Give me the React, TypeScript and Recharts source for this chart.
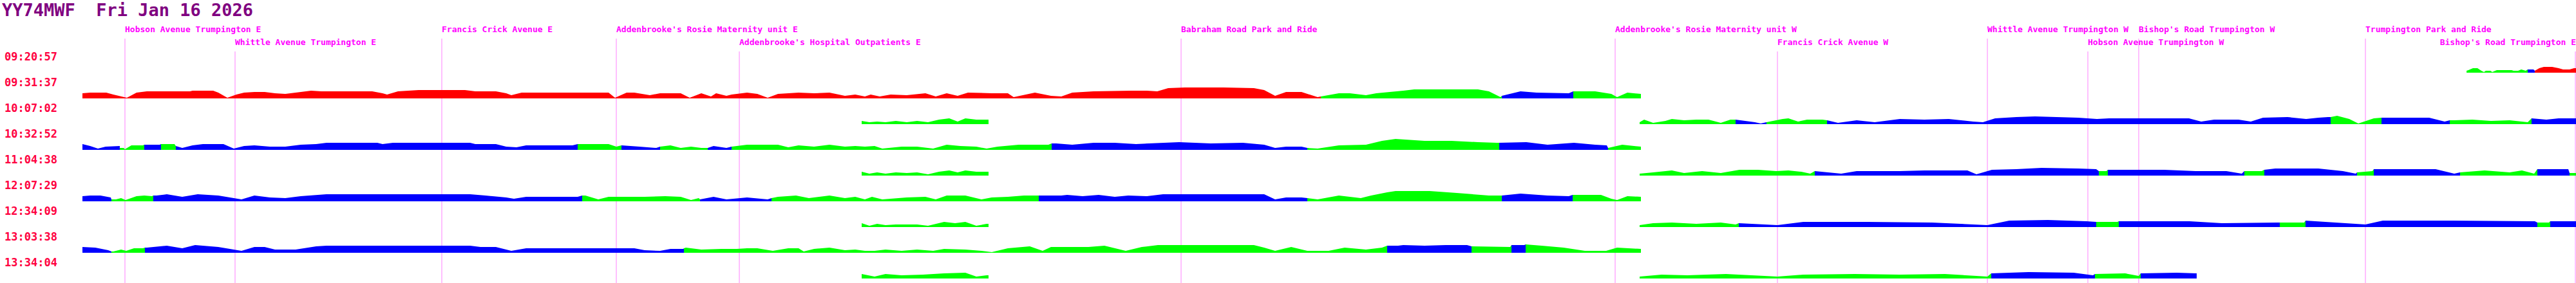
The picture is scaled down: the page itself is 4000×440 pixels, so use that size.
import React from "react";
import { ComposedChart, Area, XAxis, YAxis, ReferenceLine } from "recharts";

const W = 4000;
const H = 440;
const LEFT = 128;
const HEAD_H = 73;
const ROW_H = 40;

const TITLE = "YY74MWF  Fri Jan 16 2026";
const TITLE_COLOR = "#800080";
const TIME_COLOR = "#ff0040";
const STOP_COLOR = "#ff00ff";
const LINE_COLOR = "#ff80ff";
const FILL: Record<string, string> = { r: "#ff0000", g: "#00ff00", b: "#0000ff" };
const MONO = "'DejaVu Sans Mono', 'Liberation Mono', monospace";

// stops along the route (route position), label tier 1 = upper, 2 = lower
const stopNames = [
  "Hobson Avenue Trumpington E",
  "Whittle Avenue Trumpington E",
  "Francis Crick Avenue E",
  "Addenbrooke's Rosie Maternity unit E",
  "Addenbrooke's Hospital Outpatients E",
  "Babraham Road Park and Ride",
  "Addenbrooke's Rosie Maternity unit W",
  "Francis Crick Avenue W",
  "Whittle Avenue Trumpington W",
  "Hobson Avenue Trumpington W",
  "Bishop's Road Trumpington W",
  "Trumpington Park and Ride",
  "Bishop's Road Trumpington E",
];
const stopPos = [194, 365, 686, 957, 1148, 1834, 2508, 2760, 3086, 3242, 3321, 3673, 3999];
const stopTier = [1, 2, 1, 1, 2, 1, 1, 2, 1, 2, 1, 1, 2];

const tripTimes = [
  "09:20:57", "09:31:37", "10:07:02", "10:32:52", "11:04:38",
  "12:07:29", "12:34:09", "13:03:38", "13:34:04",
];

// each trip: segments -> runs of [state, [[position, speed], ...]]
type Run = [string, number[][]];

const trip0: Run[][] = [[
  ["g", [[3830, 3], [3833, 4], [3840, 7], [3847, 7], [3853, 3], [3857, 1], [3860, 3], [3867, 3], [3870, 1], [3877, 4], [3900, 4], [3903, 3], [3910, 3], [3915, 5], [3922, 3]]],
  ["b", [[3925, 5], [3934, 5]]],
  ["r", [[3936, 3], [3943, 7], [3950, 9], [3963, 9], [3973, 7], [3980, 5], [3990, 5], [3997, 7], [4000, 7]]],
]];

const trip1: Run[][] = [[
  ["r", [[128, 8], [140, 9], [165, 9], [176, 6], [197, 1], [212, 9], [228, 11], [295, 11], [299, 12], [331, 12], [339, 9], [353, 1], [367, 6], [379, 9], [395, 10], [411, 10], [427, 8], [443, 7], [459, 9], [483, 12], [499, 11], [578, 11], [594, 8], [601, 6], [618, 11], [650, 13], [722, 13], [738, 11], [770, 11], [786, 8], [794, 5], [810, 9], [945, 9], [955, 1], [973, 9], [985, 9], [1009, 5], [1025, 8], [1057, 8], [1071, 1], [1089, 8], [1104, 3], [1112, 8], [1128, 4], [1136, 6], [1160, 9], [1176, 7], [1192, 1], [1208, 7], [1240, 9], [1264, 8], [1288, 9], [1312, 4], [1328, 6], [1343, 3], [1352, 6], [1366, 3], [1383, 6], [1408, 5], [1437, 8], [1453, 3], [1470, 8], [1487, 4], [1503, 9], [1540, 8], [1565, 8], [1574, 2], [1607, 9], [1632, 4], [1648, 3], [1665, 9], [1698, 11], [1756, 12], [1781, 12], [1797, 11], [1814, 16], [1840, 17], [1900, 17], [1947, 16], [1963, 13], [1980, 4], [1997, 10], [2021, 10], [2046, 2]]],
  ["g", [[2051, 3], [2079, 8], [2096, 8], [2121, 5], [2137, 8], [2179, 12], [2196, 14], [2295, 14], [2312, 11], [2330, 2]]],
  ["b", [[2332, 4], [2361, 11], [2386, 9], [2436, 8]]],
  ["g", [[2443, 11], [2477, 11], [2502, 7], [2511, 2], [2527, 9], [2548, 7]]],
]];

const trip2: Run[][] = [
  [["g", [[1338, 5], [1350, 3], [1362, 4], [1375, 3], [1391, 5], [1408, 3], [1424, 5], [1441, 3], [1458, 7], [1474, 9], [1487, 4], [1499, 9], [1516, 7], [1535, 7]]]],
  [
    ["g", [[2546, 3], [2553, 7], [2567, 2], [2586, 5], [2596, 8], [2615, 6], [2634, 7], [2653, 7], [2672, 2], [2687, 7]]],
    ["b", [[2695, 7], [2725, 3], [2734, 1]]],
    ["g", [[2743, 3], [2768, 8], [2777, 9], [2792, 4], [2806, 7], [2830, 7]]],
    ["b", [[2837, 6], [2854, 2], [2883, 6], [2911, 3], [2950, 8], [2988, 7], [3026, 8], [3064, 4], [3079, 3], [3098, 9], [3131, 11], [3160, 12], [3227, 10], [3256, 8], [3275, 9], [3399, 9], [3418, 4], [3438, 7], [3476, 7], [3495, 4], [3514, 10], [3552, 11], [3581, 8], [3600, 10], [3615, 11]]],
    ["g", [[3619, 11], [3629, 13], [3648, 8], [3662, 1], [3686, 9]]],
    ["b", [[3698, 10], [3772, 10], [3796, 4]]],
    ["g", [[3804, 6], [3811, 6], [3839, 7], [3868, 5], [3897, 6], [3925, 3]]],
    ["b", [[3931, 9], [3954, 7], [3973, 9], [4000, 9]]],
  ],
];

const trip3: Run[][] = [[
  ["b", [[128, 9], [140, 6], [152, 2], [164, 5], [186, 6]]],
  ["g", [[186, 3], [192, 3], [194, 1], [204, 7], [222, 7]]],
  ["b", [[224, 8], [248, 8]]],
  ["g", [[250, 9], [271, 9]]],
  ["b", [[273, 6], [283, 3], [299, 7], [315, 9], [347, 9], [363, 2], [379, 6], [395, 7], [419, 5], [443, 5], [467, 8], [491, 9], [507, 11], [586, 11], [594, 9], [610, 11], [730, 11], [738, 9], [770, 9], [786, 5], [802, 4], [817, 7], [889, 7]]],
  ["g", [[897, 9], [945, 9], [957, 5]]],
  ["b", [[965, 7], [993, 5], [1019, 3]]],
  ["g", [[1025, 5], [1041, 7], [1057, 3], [1073, 5], [1089, 3]]],
  ["b", [[1099, 3], [1108, 6], [1128, 3]]],
  ["g", [[1136, 5], [1160, 8], [1208, 8], [1224, 4], [1240, 7], [1264, 5], [1288, 8], [1312, 5], [1328, 6], [1343, 5], [1358, 6], [1370, 2], [1400, 5], [1424, 5], [1449, 2], [1470, 8], [1491, 6], [1516, 5], [1532, 2], [1549, 5], [1582, 8], [1628, 8]]],
  ["b", [[1633, 10], [1640, 10], [1665, 8], [1698, 11], [1731, 11], [1764, 9], [1831, 12], [1880, 10], [1930, 11], [1963, 8], [1980, 3], [1997, 5], [2021, 5]]],
  ["g", [[2030, 3], [2046, 2], [2079, 7], [2121, 8], [2146, 14], [2167, 17], [2212, 14], [2254, 14], [2295, 12], [2324, 11]]],
  ["b", [[2328, 11], [2370, 12], [2403, 8], [2444, 11], [2477, 8], [2495, 7]]],
  ["g", [[2497, 3], [2519, 8], [2548, 5]]],
]];

const trip4: Run[][] = [
  [["g", [[1338, 6], [1350, 3], [1362, 5], [1375, 3], [1391, 5], [1408, 4], [1424, 5], [1441, 2], [1458, 6], [1474, 8], [1487, 5], [1499, 8], [1516, 6], [1535, 6]]]],
  [
    ["g", [[2546, 3], [2567, 5], [2596, 8], [2615, 4], [2643, 7], [2672, 4], [2701, 9], [2730, 9], [2758, 7], [2777, 8], [2797, 6], [2811, 3]]],
    ["b", [[2818, 7], [2859, 3], [2883, 7], [2950, 7], [2988, 8], [3055, 8], [3069, 2], [3093, 9], [3131, 10], [3170, 12], [3227, 11], [3255, 10]]],
    ["g", [[3259, 7], [3271, 7]]],
    ["b", [[3273, 9], [3361, 9], [3409, 7], [3457, 7], [3481, 3]]],
    ["g", [[3485, 7], [3512, 7]]],
    ["b", [[3516, 9], [3533, 11], [3600, 11], [3638, 7], [3658, 3]]],
    ["g", [[3660, 5], [3684, 7]]],
    ["b", [[3686, 10], [3782, 10], [3811, 3]]],
    ["g", [[3820, 5], [3858, 8], [3897, 5], [3916, 8], [3935, 3]]],
    ["b", [[3940, 10], [3983, 10], [3988, 10]]],
    ["g", [[3990, 4], [4000, 4]]],
  ],
];

const trip5: Run[][] = [[
  ["b", [[128, 8], [140, 9], [156, 9], [172, 6]]],
  ["g", [[173, 3], [180, 3], [188, 5], [195, 2], [212, 8], [224, 9], [236, 8]]],
  ["b", [[238, 9], [243, 9], [259, 11], [283, 7], [307, 11], [339, 9], [363, 5], [375, 3], [395, 9], [419, 6], [443, 5], [467, 8], [507, 11], [586, 11], [610, 11], [730, 11], [754, 9], [786, 6], [798, 4], [817, 7], [897, 7]]],
  ["g", [[904, 9], [909, 9], [929, 3], [945, 7], [1001, 7], [1033, 8], [1057, 7], [1073, 2], [1085, 5]]],
  ["b", [[1087, 3], [1108, 7], [1128, 3], [1160, 6], [1192, 3]]],
  ["g", [[1198, 5], [1208, 7], [1236, 9], [1256, 5], [1288, 9], [1312, 5], [1328, 7], [1343, 3], [1354, 7], [1370, 3], [1408, 6], [1437, 7], [1453, 3], [1470, 9], [1499, 9], [1524, 3], [1540, 6], [1565, 7], [1590, 9], [1611, 9]]],
  ["b", [[1613, 9], [1648, 9], [1657, 10], [1681, 8], [1706, 10], [1731, 7], [1752, 9], [1781, 8], [1806, 11], [1831, 11], [1880, 11], [1963, 11], [1980, 3], [1997, 6], [2021, 6]]],
  ["g", [[2030, 5], [2046, 3], [2079, 9], [2113, 5], [2129, 9], [2154, 14], [2167, 16], [2220, 16], [2262, 13], [2312, 9], [2330, 9]]],
  ["b", [[2332, 9], [2361, 12], [2403, 9], [2436, 8]]],
  ["g", [[2442, 10], [2486, 10], [2502, 4], [2511, 2], [2527, 8], [2548, 7]]],
]];

const trip6: Run[][] = [
  [["g", [[1338, 6], [1350, 2], [1362, 5], [1375, 3], [1391, 4], [1424, 4], [1441, 2], [1466, 8], [1483, 6], [1499, 8], [1516, 2], [1532, 5], [1535, 5]]]],
  [
    ["g", [[2546, 3], [2567, 6], [2596, 7], [2634, 5], [2672, 7], [2695, 4]]],
    ["b", [[2700, 6], [2760, 3], [2800, 8], [2900, 8], [3000, 7], [3086, 3], [3120, 10], [3180, 11], [3240, 9]]],
    ["g", [[3255, 8], [3288, 8]]],
    ["b", [[3290, 9], [3400, 9], [3450, 6], [3536, 7]]],
    ["g", [[3540, 7], [3578, 7]]],
    ["b", [[3580, 10], [3673, 4], [3700, 10], [3800, 10], [3936, 9]]],
    ["g", [[3940, 7], [3958, 7]]],
    ["b", [[3960, 9], [4000, 9]]],
  ],
];

const trip7: Run[][] = [[
  ["b", [[128, 9], [148, 8], [168, 4]]],
  ["g", [[173, 2], [176, 2], [188, 5], [196, 3], [208, 7], [222, 7]]],
  ["b", [[225, 8], [228, 8], [259, 11], [283, 7], [303, 12], [339, 9], [363, 5], [375, 3], [395, 9], [411, 9], [427, 5], [459, 5], [491, 10], [507, 11], [730, 11], [746, 9], [770, 9], [786, 5], [794, 3], [817, 7], [985, 7], [1001, 4], [1025, 3], [1041, 6], [1061, 6]]],
  ["g", [[1062, 7], [1065, 8], [1089, 5], [1120, 6], [1144, 6], [1160, 7], [1176, 7], [1200, 3], [1224, 7], [1240, 7], [1248, 2], [1264, 6], [1288, 8], [1312, 4], [1328, 5], [1343, 3], [1358, 3], [1375, 5], [1400, 3], [1424, 5], [1449, 3], [1466, 6], [1499, 5], [1524, 3], [1540, 1], [1565, 7], [1599, 10], [1619, 3], [1632, 9], [1690, 9], [1715, 11], [1748, 3], [1773, 9], [1798, 12], [1947, 12], [1963, 8], [1980, 3], [2005, 9], [2030, 3], [2063, 3], [2088, 8], [2121, 5], [2146, 8]]],
  ["b", [[2154, 11], [2171, 11], [2179, 12], [2212, 11], [2245, 12], [2278, 12]]],
  ["g", [[2285, 10], [2345, 9]]],
  ["b", [[2347, 12], [2367, 12]]],
  ["g", [[2369, 13], [2394, 11], [2428, 8], [2461, 3], [2494, 3], [2511, 8], [2548, 6]]],
]];

const trip8: Run[][] = [
  [["g", [[1338, 7], [1358, 3], [1375, 7], [1400, 5], [1433, 6], [1466, 8], [1499, 9], [1516, 3], [1532, 5], [1535, 5]]]],
  [
    ["g", [[2546, 3], [2580, 6], [2620, 5], [2680, 7], [2760, 3], [2800, 6], [2880, 7], [2950, 6], [3020, 7], [3086, 3]]],
    ["b", [[3092, 8], [3150, 10], [3220, 9], [3250, 5]]],
    ["g", [[3253, 7], [3300, 8], [3321, 4]]],
    ["b", [[3324, 8], [3380, 9], [3411, 8]]],
  ],
];

const trips = [trip0, trip1, trip2, trip3, trip4, trip5, trip6, trip7, trip8];

function buildRows(trip: Run[][]) {
  const out: Record<string, number>[] = [];
  trip.forEach((seg, si) => {
    if (si > 0) out.push({ x: seg[0][1][0][0] }); // break between segments
    seg.forEach(([c, pts], ri) => {
      pts.forEach(([x, v], j) => {
        const prev = out[out.length - 1];
        if (j === 0 && ri > 0 && prev && prev.x === x) prev[c] = v;
        else out.push({ x, [c]: v });
      });
      const next = seg[ri + 1];
      if (next) out.push({ x: next[1][0][0], [c]: next[1][0][1] });
    });
  });
  return out;
}

function StopLabel({ viewBox, name }: any) {
  const vx = viewBox?.x ?? viewBox?.x1 ?? 0;
  const vy = viewBox?.y ?? viewBox?.y1 ?? 0;
  const over = vx + name.length * 7.83 > W;
  return (
    <text
      x={over ? W : vx}
      y={vy - 10}
      textAnchor={over ? "end" : "start"}
      fill={STOP_COLOR}
      fontFamily={MONO}
      fontWeight="bold"
      fontSize={13}
    >
      {name}
    </text>
  );
}

function StopLayer({ tier, top }: { tier: number; top: number }) {
  const stops = stopNames
    .map((name, i) => ({ name, x: stopPos[i], y: 0.5, tier: stopTier[i] }))
    .filter((s) => s.tier === tier);
  return (
    <div style={{ position: "absolute", top: 0, left: 0 }}>
      <ComposedChart width={W} height={H} data={stops} margin={{ top, right: 0, bottom: 0, left: LEFT }}>
        <XAxis type="number" dataKey="x" domain={[LEFT, W]} hide allowDataOverflow />
        <YAxis type="number" hide domain={[0, 1]} allowDataOverflow />
        {stops.map((s) => (
          <ReferenceLine
            key={s.name}
            x={s.x}
            stroke={LINE_COLOR}
            strokeWidth={1}
            ifOverflow="visible"
            label={(p: any) => <StopLabel viewBox={p.viewBox} name={s.name} />}
          />
        ))}
      </ComposedChart>
    </div>
  );
}

function TripRow({ trip, time, idx }: { trip: Run[][]; time: string; idx: number }) {
  const data = buildRows(trip);
  return (
    <div style={{ position: "absolute", top: HEAD_H + idx * ROW_H, left: 0, width: W, height: ROW_H }}>
      <div
        style={{
          position: "absolute",
          left: 7,
          top: 7,
          fontFamily: MONO,
          fontWeight: "bold",
          fontSize: 17,
          lineHeight: "17px",
          color: TIME_COLOR,
          whiteSpace: "pre",
        }}
      >
        {time}
      </div>
      <div style={{ position: "absolute", top: 0, left: 0 }}>
        <ComposedChart width={W} height={ROW_H} data={data} margin={{ top: 0, right: 0, bottom: 0, left: LEFT }}>
          <XAxis type="number" dataKey="x" domain={[LEFT, W]} hide allowDataOverflow />
          <YAxis hide domain={[0, ROW_H]} allowDataOverflow />
          {["r", "g", "b"].map((k) => (
            <Area
              key={k}
              dataKey={k}
              type="linear"
              fill={FILL[k]}
              fillOpacity={1}
              stroke="none"
              baseValue={0}
              connectNulls={false}
              dot={false}
              activeDot={false}
              isAnimationActive={false}
            />
          ))}
        </ComposedChart>
      </div>
    </div>
  );
}

export default function App() {
  return (
    <div style={{ position: "absolute", top: 0, left: 0, width: W, height: H, background: "#fff", overflow: "hidden" }}>
      <StopLayer tier={1} top={60} />
      <StopLayer tier={2} top={80} />
      <div
        style={{
          position: "absolute",
          left: 3,
          top: 2,
          fontFamily: MONO,
          fontWeight: "bold",
          fontSize: 27,
          lineHeight: "27px",
          color: TITLE_COLOR,
          whiteSpace: "pre",
        }}
      >
        {TITLE}
      </div>
      {trips.map((t, i) => (
        <TripRow key={i} trip={t} time={tripTimes[i]} idx={i} />
      ))}
    </div>
  );
}
